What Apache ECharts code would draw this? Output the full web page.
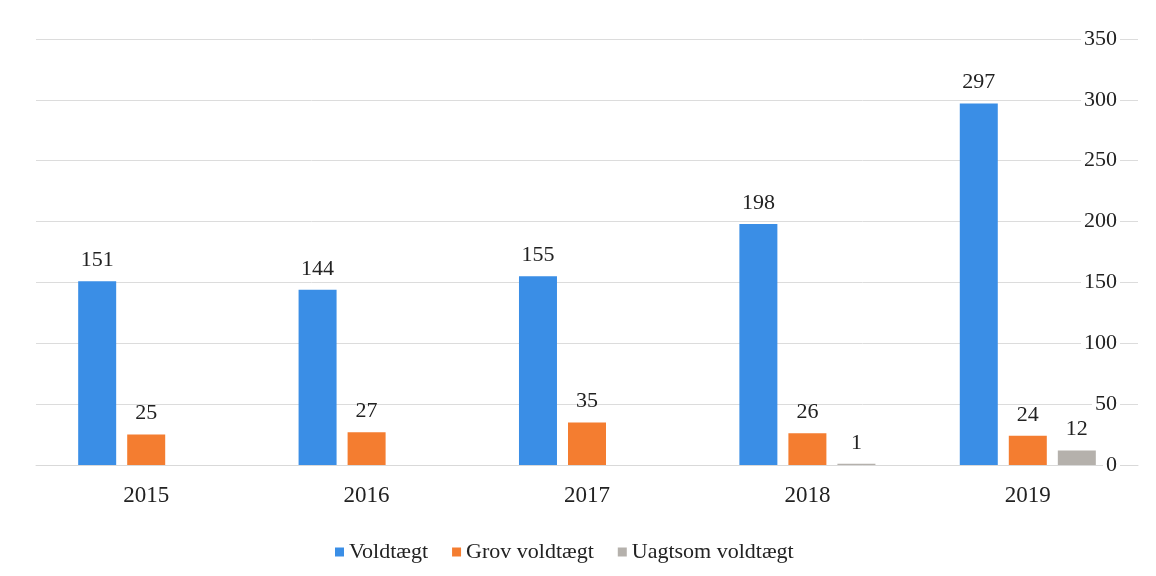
<!DOCTYPE html>
<html>
<head>
<meta charset="utf-8">
<script src="https://cdn.jsdelivr.net/npm/echarts@6/dist/echarts.min.js"></script>
<style>
  html, body {margin: 0; padding: 0; background: #fff;}
  #chart {width: 1156px; height: 576px;}
</style>
</head>
<body>
<div id="chart"></div>
<script>
const years = ['2015', '2016', '2017', '2018', '2019'];
const voldtaegt = [151, 144, 155, 198, 297];
const grovVoldtaegt = [25, 27, 35, 26, 24];
const uagtsomVoldtaegt = [null, null, null, 1, 12];
const yTicks = {min: 0, max: 350, interval: 50};

const font = '"Liberation Serif", "DejaVu Serif", serif';
const textColor = '#222';

const myChart = echarts.init(document.getElementById('chart'));
myChart.setOption({
  animation: false,
  textStyle: {fontFamily: font},
  grid: {left: 36, right: 18, top: 39, bottom: 111},
  legend: {
    left: 330,
    top: 536,
    itemWidth: 9,
    itemHeight: 9,
    itemGap: 24,
    icon: 'rect',
    textStyle: {fontFamily: font, fontSize: 22, color: textColor}
  },
  xAxis: {
    type: 'category',
    data: years,
    axisTick: {show: false},
    axisLine: {lineStyle: {color: '#d9d9d9'}},
    axisLabel: {fontFamily: font, fontSize: 23, color: textColor, margin: 19}
  },
  yAxis: {
    type: 'value',
    position: 'right',
    min: yTicks.min,
    max: yTicks.max,
    interval: yTicks.interval,
    axisLine: {show: false},
    axisTick: {show: false},
    splitLine: {lineStyle: {color: '#dcdcdc'}},
    axisLabel: {
      inside: true,
      margin: 18,
      fontFamily: font,
      fontSize: 22,
      color: textColor,
      backgroundColor: '#fff',
      padding: [0, 3]
    }
  },
  series: [
    {name: 'Voldtægt', data: voldtaegt, color: '#3a8ee6'},
    {name: 'Grov voldtægt', data: grovVoldtaegt, color: '#f47d30'},
    {name: 'Uagtsom voldtægt', data: uagtsomVoldtaegt, color: '#b5b1ac'}
  ].map(obj => ({
    ...obj,
    type: 'bar',
    barWidth: 38,
    barGap: '29%',
    label: {
      show: true,
      position: 'top',
      distance: 10,
      fontFamily: font,
      fontSize: 22,
      color: textColor
    }
  }))
});
</script>
</body>
</html>
